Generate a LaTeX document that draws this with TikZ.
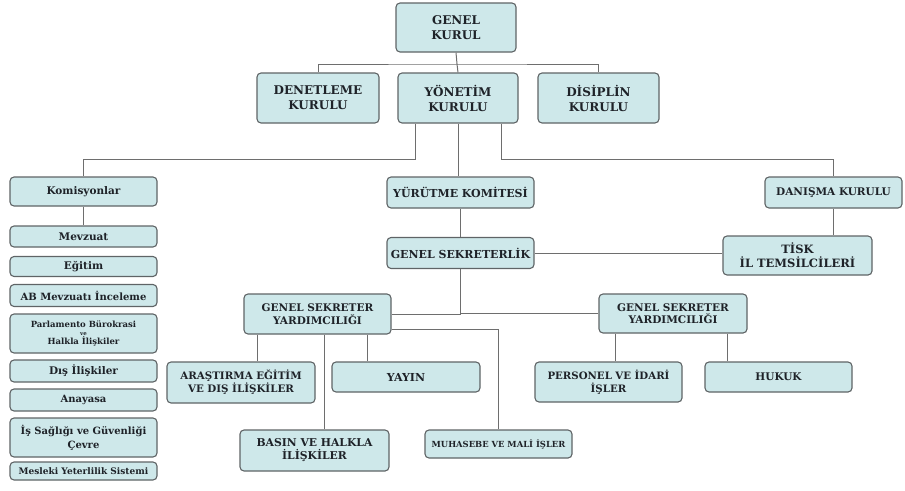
\documentclass[tikz,border=0pt]{standalone}
\usepackage{fontspec}
\setmainfont{DejaVu Serif}
\usepackage{tikz}
\usetikzlibrary{positioning, calc}
\definecolor{boxcyan}{RGB}{206, 232, 234}
\definecolor{edgegray}{RGB}{95, 100, 102}
\definecolor{linegray}{RGB}{110, 110, 110}
\definecolor{textdark}{RGB}{30, 34, 40}
\newcommand{\fsz}[2]{\bfseries\fontsize{#1}{#2}\selectfont}

\begin{document}
\begin{tikzpicture}[
  x=1pt, y=-1pt,
  box/.style={draw=edgegray, line width=1.1pt, rounded corners=4pt, fill=boxcyan,
              align=center, inner sep=1.5pt, text=textdark,
              font=\fsz{12}{15}},
  sbox/.style={box, font=\fsz{10.5}{12.5}},
  kbox/.style={box, minimum width=147pt, font=\fsz{10.5}{12}},
  link/.style={draw=linegray, line width=1pt},
]
\useasboundingbox (0,0) rectangle (905,490);

% Top
\node[box, minimum width=120pt, minimum height=49pt] (gk) at (456, 27.5) {GENEL\\KURUL};
\node[box, minimum width=122pt, minimum height=50pt] (den) at (318, 98) {DENETLEME\\KURULU};
\node[box, minimum width=120pt, minimum height=50pt] (yon) at (458, 98) {YÖNETİM\\KURULU};
\node[box, minimum width=121pt, minimum height=50pt] (dis) at (598.5, 98) {DİSİPLİN\\KURULU};

\coordinate (topbus) at (457, 64);
\draw[link] (gk.south) -- (topbus);
\draw[link] (den.north) |- (topbus) -| (dis.north);
\draw[link] (topbus) -- (yon.north);

% Middle column
\node[sbox, minimum width=147pt, minimum height=31pt, font=\fsz{11}{13}] (yur) at (460.5, 192.5) {YÜRÜTME KOMİTESİ};
\node[sbox, minimum width=147pt, minimum height=31pt, font=\fsz{11}{13}] (gs) at (460.5, 253) {GENEL SEKRETERLİK};

\draw[link] (yon.south) -- (yon.south |- yur.north);
\draw[link] (yur.south) -- (yur.south |- gs.north);

% Komisyonlar
\node[kbox, minimum height=29pt] (kom) at (83.5, 191.5) {Komisyonlar};
\node[kbox, minimum height=21pt] (mev) at (83.5, 236.5) {Mevzuat};
\node[kbox, minimum height=20pt] (egi) at (83.5, 266.5) {Eğitim};
\node[kbox, minimum height=22pt, font=\fsz{10}{11}] (abm) at (83.5, 295.5) {AB Mevzuatı İnceleme};
\node[kbox, minimum height=39pt, font=\fsz{8.5}{7.5}] (par) at (83.5, 333.5)
{Parlamento Bürokrasi\\{\fontsize{5.5}{5}\selectfont ve}\\Halkla İlişkiler};
\node[kbox, minimum height=22pt] (dil) at (83.5, 371) {Dış İlişkiler};
\node[kbox, minimum height=22pt, font=\fsz{10}{11}] (ana) at (83.5, 400) {Anayasa};
\node[kbox, minimum height=39pt, font=\fsz{10}{14}] (isg) at (83.5, 437.5) {İş Sağlığı ve Güvenliği\\Çevre};
\node[kbox, minimum height=18pt, font=\fsz{9}{10}, inner sep=1pt] (mys) at (83.5, 471) {Mesleki Yeterlilik Sistemi};

\draw[link] ([xshift=-43]yon.south) |- ([yshift=17]kom.north) -- (kom.north);
\draw[link] (kom.south) -- (mev.north);

% Danisma
\node[sbox, minimum width=137pt, minimum height=31pt] (dan) at (833.5, 192.5) {DANIŞMA KURULU};
\node[sbox, minimum width=149pt, minimum height=39pt, font=\fsz{11.5}{14}] (tisk) at (797.5, 255.5) {TİSK\\İL TEMSİLCİLERİ};

\draw[link] ([xshift=43]yon.south) |- ([yshift=17]dan.north) -- (dan.north);
\draw[link] (dan.south) -- (dan.south |- tisk.north);
\draw[link] (gs.east) -- (gs.east -| tisk.west);

% Genel sekreter yardimciliklari
\node[sbox, minimum width=147pt, minimum height=40pt] (gsy1) at (317.5, 314) {GENEL SEKRETER\\YARDIMCILIĞI};
\node[sbox, minimum width=148pt, minimum height=39pt] (gsy2) at (673, 313.5) {GENEL SEKRETER\\YARDIMCILIĞI};

\draw[link] (gs.south) |- (gsy1.east);
\draw[link] (gs.south) |- (gsy2.west);

% Alt birimler
\node[sbox, minimum width=148pt, minimum height=41pt, font=\fsz{10.3}{13}] (ara) at (241, 382.5) {ARAŞTIRMA EĞİTİM\\VE DIŞ İLİŞKİLER};
\node[sbox, minimum width=148pt, minimum height=30pt, font=\fsz{11}{13}] (yay) at (406, 377) {YAYIN};
\node[sbox, minimum width=149pt, minimum height=41pt, font=\fsz{10.8}{13}] (bas) at (314.5, 450.5) {BASIN VE HALKLA\\İLİŞKİLER};
\node[sbox, minimum width=147pt, minimum height=28pt, font=\fsz{8.4}{9}] (muh) at (498.5, 444) {MUHASEBE VE MALİ İŞLER};
\node[sbox, minimum width=147pt, minimum height=40pt, font=\fsz{10.2}{13}] (per) at (608.5, 382) {PERSONEL VE İDARİ\\İŞLER};
\node[sbox, minimum width=147pt, minimum height=30pt, font=\fsz{10.5}{12}] (huk) at (778.5, 377) {HUKUK};

\draw[link] ([xshift=-60]gsy1.south) -- ([xshift=-60]gsy1.south |- ara.north);
\draw[link] ([xshift=50]gsy1.south) -- ([xshift=50]gsy1.south |- yay.north);
\draw[link] ([xshift=7]gsy1.south) -- ([xshift=7]gsy1.south |- bas.north);
\draw[link] ([yshift=-15]gsy1.east) -| (muh.north);
\draw[link] ([xshift=-58]gsy2.south) -- ([xshift=-58]gsy2.south |- per.north);
\draw[link] ([xshift=54]gsy2.south) -- ([xshift=54]gsy2.south |- huk.north);
\end{tikzpicture}
\end{document}
